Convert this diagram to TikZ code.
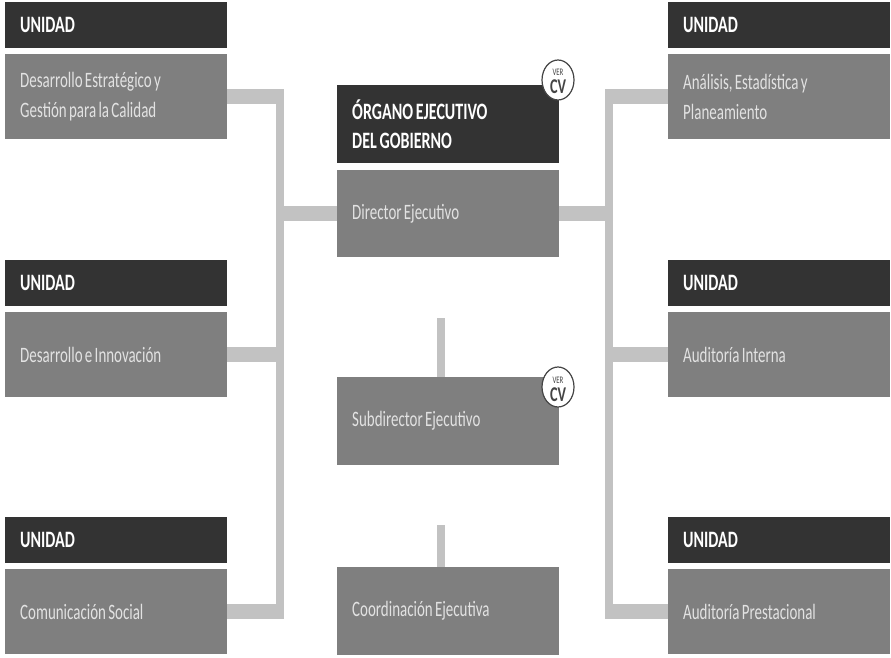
\documentclass[tikz,border=0pt]{standalone}
\usepackage{fontspec}
\setmainfont{Carlito}[FakeStretch=0.68]
\usetikzlibrary{shapes.geometric}
\newcommand\hdrfnt{\fontsize{23.5}{29}\selectfont\bfseries}
\newcommand\bodfnt{\fontsize{22}{30}\selectfont}
\newcommand\hdrspc{\spaceskip 2.8pt plus 1pt minus 0.5pt\relax}
\newcommand\bodspc{\spaceskip 2.3pt plus 1pt minus 0.5pt\relax}
\begin{document}
\begin{tikzpicture}[x=1pt,y=-1pt,
  hdr/.style={fill=hdrcol, anchor=north west, minimum width=222pt, minimum height=46pt, inner xsep=15pt, text width=192pt, align=left, text=white, font=\hdrfnt, execute at begin node=\hdrspc},
  bod/.style={fill=bodcol, anchor=north west, minimum width=222pt, minimum height=85pt, inner xsep=15pt, text width=192pt, align=left, text=bodtxt, font=\bodfnt, execute at begin node=\bodspc},
  hbar/.style={draw=barcol, line width=15pt},
  vbar/.style={draw=barcol, line width=8pt},
  cv/.style={ellipse, draw=cvcol, line width=1.2pt, fill=white, minimum width=32pt, minimum height=40pt, inner sep=0pt},
  cvsmall/.style={inner sep=0pt, text=cvcol, font=\fontsize{10}{10}\selectfont},
  cvbig/.style={inner sep=0pt, text=cvcol, font=\fontsize{21}{21}\selectfont\bfseries}
]
\definecolor{hdrcol}{HTML}{333333}
\definecolor{bodcol}{HTML}{7F7F7F}
\definecolor{bodtxt}{HTML}{E2E2E2}
\definecolor{barcol}{HTML}{C2C2C2}
\definecolor{cvcol}{HTML}{444444}
\useasboundingbox (0,0) rectangle (891,658);
\fill[white] (0,0) rectangle (891,658);

% left column
\node[hdr] (lh1) at (5,2) {UNIDAD};
\node[bod] (lb1) at (5,54) {Desarrollo Estratégico y\\Gestión para la Calidad};
\node[hdr] (lh2) at (5,260) {UNIDAD};
\node[bod] (lb2) at (5,312) {Desarrollo e Innovación};
\node[hdr] (lh3) at (5,517) {UNIDAD};
\node[bod] (lb3) at (5,569) {Comunicación Social};

% right column
\node[hdr] (rh1) at (668,2) {UNIDAD};
\node[bod] (rb1) at (668,54) {Análisis, Estadística y\\Planeamiento};
\node[hdr] (rh2) at (668,260) {UNIDAD};
\node[bod] (rb2) at (668,312) {Auditoría Interna};
\node[hdr] (rh3) at (668,517) {UNIDAD};
\node[bod] (rb3) at (668,569) {Auditoría Prestacional};

% center column
\node[hdr, minimum width=222pt, minimum height=78pt] (dh) at (337,85) {ÓRGANO EJECUTIVO\\DEL GOBIERNO};
\node[bod, minimum height=87pt] (db) at (337,170) {Director Ejecutivo};
\node[bod, minimum height=88pt] (sb) at (337,377) {Subdirector Ejecutivo};
\node[bod, minimum height=88pt] (cb) at (337,567) {Coordinación Ejecutiva};

% trunks
\coordinate (LT) at (280,0);
\coordinate (RT) at (609,0);
\draw[vbar] ([yshift=-7.5pt]lb1.east -| LT) -- ([yshift=7.5pt]lb3.east -| LT);
\draw[vbar] ([yshift=-7.5pt]rb1.west -| RT) -- ([yshift=7.5pt]rb3.west -| RT);
\draw[hbar] (lb1.east) -- ([xshift=4pt]lb1.east -| LT);
\draw[hbar] (lb2.east) -- ([xshift=4pt]lb2.east -| LT);
\draw[hbar] (lb3.east) -- ([xshift=4pt]lb3.east -| LT);
\draw[hbar] ([xshift=-4pt]db.west -| LT) -- (db.west);
\draw[hbar] (rb1.west) -- ([xshift=-4pt]rb1.west -| RT);
\draw[hbar] (rb2.west) -- ([xshift=-4pt]rb2.west -| RT);
\draw[hbar] (rb3.west) -- ([xshift=-4pt]rb3.west -| RT);
\draw[hbar] ([xshift=4pt]db.east -| RT) -- (db.east);

% stubs above subdirector and coordination
\coordinate (s1) at (441,318);
\coordinate (s2) at (441,525);
\draw[vbar] (s1) -- (s1 |- sb.north);
\draw[vbar] (s2) -- (s2 |- cb.north);

% VER CV badges
\node[cv] (cv1) at (558,80) {};
\node[cvsmall, anchor=base] (cv1a) at ([yshift=4pt]cv1.center) {VER};
\node[cvbig, anchor=base] (cv1b) at ([yshift=-14pt]cv1.center) {CV};
\node[cv] (cv2) at (558,387) {};
\node[cvsmall, anchor=base] (cv2a) at ([yshift=4pt]cv2.center) {VER};
\node[cvbig, anchor=base] (cv2b) at ([yshift=-14pt]cv2.center) {CV};
\end{tikzpicture}
\end{document}
